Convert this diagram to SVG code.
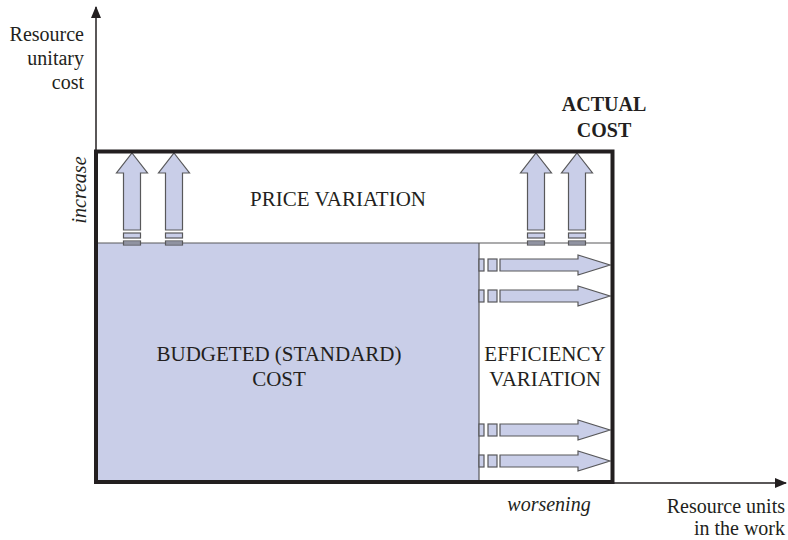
<svg xmlns="http://www.w3.org/2000/svg" width="788" height="540" viewBox="0 0 788 540">
<defs>
<style>
.arr{fill:#c9cee8;stroke:#58585a;stroke-width:1.2}
.thin{stroke:#58585a;stroke-width:1.2;fill:none}
.cap{font-size:21px}
</style>
<path id="up" d="M0,0 L15.5,20 L8.5,20 L8.5,77 L-8.5,77 L-8.5,20 L-15.5,20 Z"/>
<g id="upArrow" class="arr">
<use href="#up"/>
<rect x="-8.5" y="80" width="17" height="5"/>
<rect x="-8.5" y="88" width="17" height="4"/>
</g>
<g id="rightArrow" class="arr">
<path d="M0,-6 L78,-6 L78,-10 L110,0 L78,10 L78,6 L0,6 Z"/>
<rect x="-12" y="-6" width="9" height="12"/>
<rect x="-21" y="-6" width="5" height="12"/>
</g>
<marker id="ah" markerWidth="12" markerHeight="10" refX="11" refY="5" orient="auto" markerUnits="userSpaceOnUse">
<path d="M0,0 L12,5 L0,10 Z" fill="#231f20"/>
</marker>
</defs>
<rect width="788" height="540" fill="#fff"/>
<g id="axes" fill="none" stroke="#231f20" stroke-width="1.5">
<line x1="96" y1="483" x2="96" y2="7" marker-end="url(#ah)"/>
<line x1="96" y1="483" x2="786" y2="483" marker-end="url(#ah)"/>
</g>
<g font-family="Liberation Serif, DejaVu Serif, serif" font-size="20" fill="#231f20">
<g id="budgeted">
<rect x="96" y="243" width="383" height="239" fill="#c9cee8"/>
<line class="thin" x1="479" y1="243" x2="479" y2="482"/>
<text class="cap" x="279" y="361" text-anchor="middle">BUDGETED (STANDARD)</text>
<text class="cap" x="279" y="386" text-anchor="middle">COST</text>
</g>
<g id="price">
<use href="#upArrow" x="132" y="153"/>
<use href="#upArrow" x="174" y="153"/>
<use href="#upArrow" x="536" y="153"/>
<use href="#upArrow" x="577" y="153"/>
<line class="thin" x1="96" y1="243" x2="613" y2="243"/>
<text class="cap" x="338" y="206" text-anchor="middle">PRICE VARIATION</text>
</g>
<g id="efficiency">
<use href="#rightArrow" x="500" y="265"/>
<use href="#rightArrow" x="500" y="296"/>
<use href="#rightArrow" x="500" y="430"/>
<use href="#rightArrow" x="500" y="461"/>
<text class="cap" x="545" y="361" text-anchor="middle">EFFICIENCY</text>
<text class="cap" x="545" y="386" text-anchor="middle">VARIATION</text>
</g>
<g id="actual">
<rect x="96" y="151.5" width="516.5" height="330.5" fill="none" stroke="#231f20" stroke-width="4"/>
<text x="604" y="111" text-anchor="middle" font-weight="bold">ACTUAL</text>
<text x="604" y="137" text-anchor="middle" font-weight="bold">COST</text>
</g>
<g id="labels">
<text x="84" y="41" text-anchor="end">Resource</text>
<text x="84" y="65" text-anchor="end">unitary</text>
<text x="84" y="89" text-anchor="end">cost</text>
<text font-style="italic" text-anchor="middle" transform="translate(86,190) rotate(-90)">increase</text>
<text x="549" y="511" text-anchor="middle" font-style="italic">worsening</text>
<text x="785" y="513" text-anchor="end">Resource units</text>
<text x="785" y="535" text-anchor="end">in the work</text>
</g>
</g>
</svg>
